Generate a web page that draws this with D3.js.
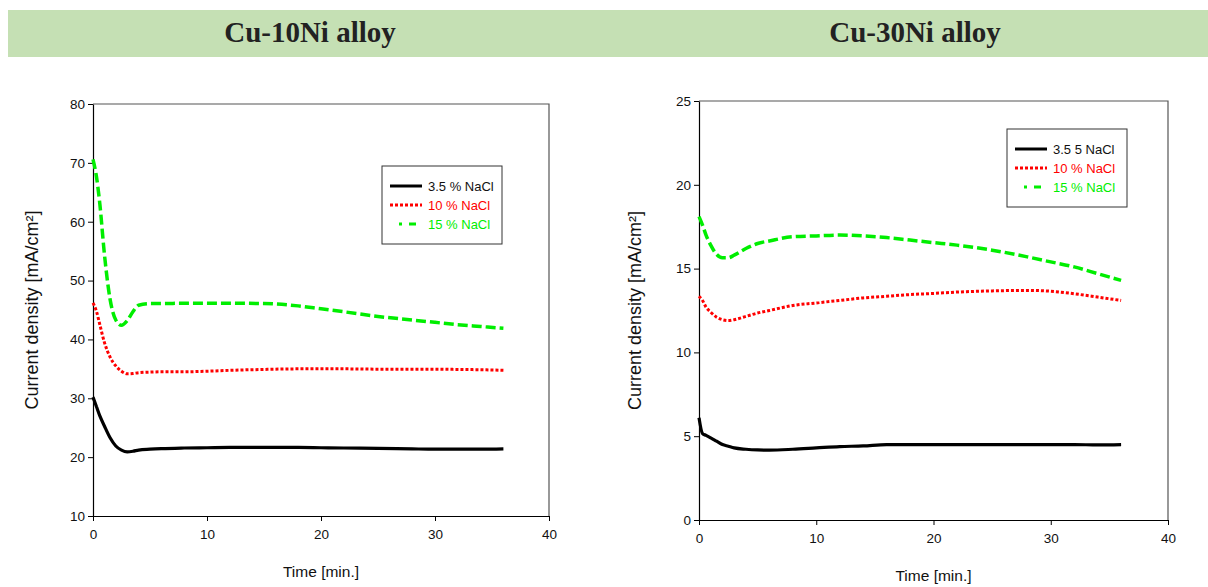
<!DOCTYPE html>
<html>
<head>
<meta charset="utf-8">
<script src="https://cdn.jsdelivr.net/npm/d3@7"></script>
<style>
body { margin: 0; background: #fff; }
text { font-family: 'Liberation Sans', Arial, sans-serif; }
</style>
</head>
<body>
<script>
// data
var titles = ['Cu-10Ni alloy', 'Cu-30Ni alloy'];
var seriesNames10 = ['3.5 % NaCl', '10 % NaCl', '15 % NaCl'];
var seriesNames30 = ['3.5 5 NaCl', '10 % NaCl', '15 % NaCl'];
var xTicks = [0, 10, 20, 30, 40];
var yTicks10 = [10, 20, 30, 40, 50, 60, 70, 80];
var yTicks30 = [0, 5, 10, 15, 20, 25];

var time10 = [0, 0.3, 0.6, 1, 1.5, 2, 2.5, 3, 3.5, 4, 5, 6, 8, 10, 12, 15, 18, 20, 22, 25, 28, 30, 32, 34, 36];
var black10 = [30.2, 28.6, 27, 25.3, 23.3, 21.9, 21.2, 20.9, 21.0, 21.2, 21.35, 21.45, 21.55, 21.6, 21.65, 21.65, 21.65, 21.6, 21.55, 21.5, 21.4, 21.35, 21.35, 21.35, 21.4];
var red10 = [46.2, 44.8, 42.5, 39.5, 37, 35.5, 34.6, 34.15, 34.2, 34.35, 34.45, 34.5, 34.5, 34.6, 34.75, 34.9, 35.0, 35.0, 35.0, 34.95, 34.95, 34.95, 34.9, 34.85, 34.75];
var green10 = [70.6, 67.7, 63, 54.5, 46.8, 43.3, 42.4, 43.2, 44.7, 45.8, 46.1, 46.1, 46.15, 46.15, 46.15, 46.1, 45.7, 45.2, 44.7, 43.9, 43.3, 42.9, 42.5, 42.2, 41.9];

var time30 = [0, 0.3, 0.6, 1, 1.5, 2, 2.5, 3, 4, 5, 6, 8, 10, 12, 14, 16, 18, 20, 22, 25, 28, 30, 32, 34, 36];
var black30 = [6.1, 5.15, 5.05, 4.9, 4.7, 4.5, 4.4, 4.3, 4.22, 4.18, 4.17, 4.22, 4.3, 4.38, 4.42, 4.5, 4.5, 4.5, 4.5, 4.5, 4.5, 4.5, 4.5, 4.48, 4.5];
var red30 = [13.35, 13.1, 12.7, 12.4, 12.1, 11.95, 11.9, 11.95, 12.15, 12.35, 12.5, 12.8, 12.95, 13.1, 13.25, 13.35, 13.45, 13.52, 13.6, 13.67, 13.7, 13.65, 13.5, 13.3, 13.1];
var green30 = [18.1, 17.6, 17.0, 16.4, 15.85, 15.65, 15.65, 15.8, 16.2, 16.5, 16.65, 16.9, 16.95, 17.0, 16.95, 16.85, 16.7, 16.55, 16.4, 16.1, 15.7, 15.4, 15.1, 14.7, 14.3];

var colors = ['#000000', '#ff0000', '#00ee00'];
var dashes = [null, '3,2', '10,4'];
var widths = [3.2, 3, 3.5];

var svg = d3.select('body').append('svg')
	.attr('width', 1208)
	.attr('height', 587);

// header band
svg.append('rect')
	.attr('x', 8)
	.attr('y', 10)
	.attr('width', 1200)
	.attr('height', 47)
	.attr('fill', '#c5e0b4');

var titleX = [310, 915];
titles.forEach(function(t, i) {
	svg.append('text')
		.attr('x', titleX[i])
		.attr('y', 42)
		.attr('text-anchor', 'middle')
		.style('font-family', "'Liberation Serif', 'Times New Roman', serif")
		.style('font-weight', 'bold')
		.style('font-size', '29px')
		.attr('fill', '#222')
		.text(t);
});

function drawChart(opt) {
	var x = d3.scaleLinear().domain([0, 40]).range([opt.left, opt.right]);
	var y = d3.scaleLinear().domain(opt.yDomain).range([opt.bottom, opt.top]);
	var g = svg.append('g');

	// top and right frame
	g.append('path')
		.attr('d', 'M' + opt.left + ',' + opt.top + 'H' + opt.right + 'V' + opt.bottom)
		.attr('fill', 'none')
		.attr('stroke', '#555')
		.attr('stroke-width', 1.2);

	var xAxis = g.append('g')
		.attr('transform', 'translate(0,' + opt.bottom + ')')
		.call(d3.axisBottom(x).tickValues(xTicks).tickSize(5).tickSizeOuter(0));
	var yAxis = g.append('g')
		.attr('transform', 'translate(' + opt.left + ',0)')
		.call(d3.axisLeft(y).tickValues(opt.yTicks).tickSize(5).tickSizeOuter(0));
	[xAxis, yAxis].forEach(function(a) {
		a.selectAll('text').style('font-size', '13.5px').attr('fill', '#111');
		a.selectAll('line').attr('stroke', '#000');
		a.select('.domain').attr('stroke', '#000').attr('stroke-width', 1.2);
	});
	xAxis.selectAll('text').attr('dy', '1.1em');
	yAxis.selectAll('text').attr('x', -8);

	g.append('text')
		.attr('x', (opt.left + opt.right) / 2)
		.attr('y', opt.bottom + 61)
		.attr('text-anchor', 'middle')
		.style('font-size', '15.5px')
		.attr('fill', '#111')
		.text('Time [min.]');

	g.append('text')
		.attr('transform', 'translate(' + opt.yLabelX + ',' + ((opt.top + opt.bottom) / 2) + ') rotate(-90)')
		.attr('text-anchor', 'middle')
		.style('font-size', '18px')
		.attr('fill', '#111')
		.text('Current density [mA/cm²]');

	var line = d3.line()
		.x(function(d) { return x(d[0]); })
		.y(function(d) { return y(d[1]); })
		.curve(d3.curveMonotoneX);

	// draw green, red, black so black sits on top
	[2, 1, 0].forEach(function(k) {
		var pts = opt.time.map(function(t, i) { return [t, opt.series[k][i]]; });
		g.append('path')
			.datum(pts)
			.attr('d', line)
			.attr('fill', 'none')
			.attr('stroke', colors[k])
			.attr('stroke-width', widths[k])
			.attr('stroke-dasharray', dashes[k]);
	});

	// legend
	var lg = opt.legend;
	g.append('rect')
		.attr('x', lg.x)
		.attr('y', lg.y)
		.attr('width', 120)
		.attr('height', 78)
		.attr('fill', '#fff')
		.attr('stroke', '#333')
		.attr('stroke-width', 1);
	var legDash = [null, '3,2', '0,9,3,7,7,30'];
	opt.names.forEach(function(n, k) {
		var ly = lg.y + 20 + k * 19;
		g.append('line')
			.attr('x1', lg.x + 8)
			.attr('x2', lg.x + 40)
			.attr('y1', ly)
			.attr('y2', ly)
			.attr('stroke', colors[k])
			.attr('stroke-width', 3)
			.attr('stroke-dasharray', legDash[k]);
		g.append('text')
			.attr('x', lg.x + 46)
			.attr('y', ly + 5)
			.style('font-size', '13px')
			.attr('fill', k == 0 ? '#111' : colors[k])
			.text(n);
	});
}

drawChart({
	left: 93, right: 549, top: 104, bottom: 516,
	yDomain: [10, 80], yTicks: yTicks10, yLabelX: 38,
	time: time10, series: [black10, red10, green10],
	names: seriesNames10,
	legend: { x: 382, y: 166 }
});

drawChart({
	left: 699, right: 1168, top: 101, bottom: 520,
	yDomain: [0, 25], yTicks: yTicks30, yLabelX: 641,
	time: time30, series: [black30, red30, green30],
	names: seriesNames30,
	legend: { x: 1007, y: 129 }
});
</script>
</body>
</html>
